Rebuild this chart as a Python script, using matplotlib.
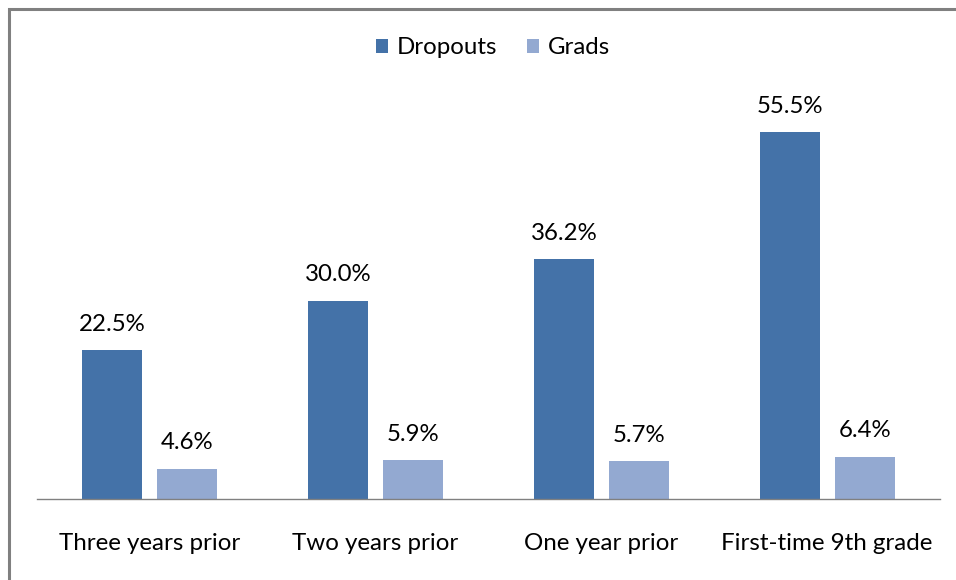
import numpy as np
import matplotlib.pyplot as plt
from matplotlib.patches import Rectangle

categories = ["Three years prior", "Two years prior", "One year prior", "First-time 9th grade"]
dropouts = [22.5, 30.0, 36.2, 55.5]
grads = [4.6, 5.9, 5.7, 6.4]
series_names = ["Dropouts", "Grads"]
colors = ["#4472A8", "#93A9D1"]

plt.rcParams["font.family"] = ["Lato", "DejaVu Sans"]

W, H = 956, 580
fig = plt.figure(figsize=(W / 100, H / 100), dpi=100)
ax = fig.add_axes([37 / W, (H - 499) / H, (940 - 37) / W, (499 - 102) / H])

x = np.arange(len(categories))
width = 0.266
off = 0.166
b1 = ax.bar(x - off, dropouts, width, color=colors[0], label=series_names[0])
b2 = ax.bar(x + off, grads, width, color=colors[1], label=series_names[1])

for bars, vals in [(b1, dropouts), (b2, grads)]:
    for bar, v in zip(bars, vals):
        ax.annotate(f"{v:.1f}%", (bar.get_x() + bar.get_width() / 2, v),
                    xytext=(0, 18.5), textcoords="offset points",
                    ha="center", va="center", fontsize=17.3, color="#000000")

ax.set_xlim(-0.5, len(categories) - 0.5)
ax.set_ylim(0, 60)
ax.set_yticks([])
ax.set_xticks(x)
ax.set_xticklabels(categories, fontsize=17.4)
ax.tick_params(axis="x", length=0, pad=24.5)
for s in ["top", "right", "left"]:
    ax.spines[s].set_visible(False)
ax.spines["bottom"].set_color("#808080")
ax.spines["bottom"].set_linewidth(1)

fig.legend(handles=[b1, b2], loc="center", bbox_to_anchor=(493 / W, 1 - 48 / H),
           ncol=2, frameon=False, fontsize=17.3, handlelength=0.5, handleheight=0.5,
           handletextpad=0.4, columnspacing=1.2)

# outer chart border (cropped on right and bottom)
fig.patches.append(Rectangle((8.5 / W, -0.1), 1.2, 1.1 - 9.5 / H, transform=fig.transFigure,
                             fill=False, edgecolor="#808080", linewidth=2.2))

fig.savefig("out.png", dpi=100)
